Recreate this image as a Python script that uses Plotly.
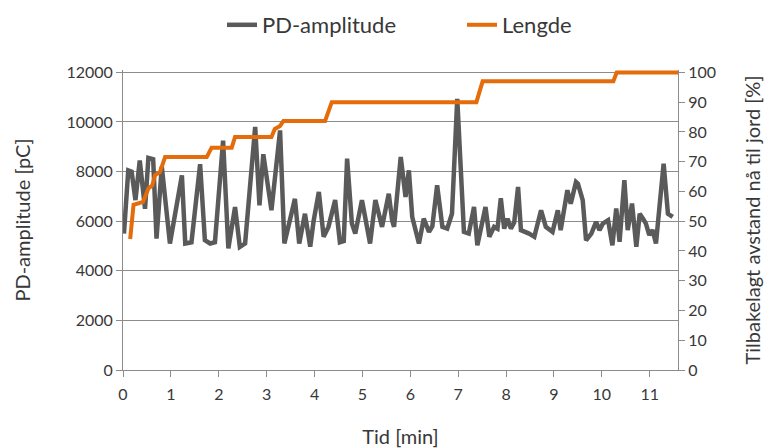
import plotly.graph_objects as go

# Time axis (minutes) and partial-discharge amplitude (pC)
pd_time = [
    0.02, 0.11, 0.18, 0.26, 0.35, 0.46, 0.53, 0.63, 0.70, 0.81, 0.98, 1.23, 1.30, 1.43,
    1.61, 1.71, 1.82, 1.92, 2.09, 2.20, 2.34, 2.44, 2.55, 2.76, 2.85, 2.93, 3.10, 3.28,
    3.37, 3.59, 3.68, 3.80, 3.91, 3.98, 4.09, 4.19, 4.29, 4.43, 4.53, 4.61, 4.68, 4.78,
    4.85, 4.99, 5.16, 5.27, 5.41, 5.55, 5.62, 5.66, 5.80, 5.90, 5.97, 6.04, 6.18, 6.28,
    6.39, 6.46, 6.56, 6.67, 6.77, 6.87, 6.98, 7.12, 7.22, 7.33, 7.40, 7.50, 7.57, 7.65,
    7.75, 7.82, 7.89, 7.96, 8.03, 8.10, 8.17, 8.25, 8.31, 8.48, 8.59, 8.73, 8.83, 8.97,
    9.08, 9.14, 9.28, 9.35, 9.46, 9.50, 9.60, 9.67, 9.78, 9.88, 9.95, 10.02, 10.13,
    10.22, 10.30, 10.37, 10.47, 10.54, 10.63, 10.72, 10.79, 10.86, 10.92, 10.99, 11.06,
    11.13, 11.29, 11.38, 11.48,
]
pd_amplitude = [
    5500, 8050, 8000, 6850, 8450, 6500, 8550, 8500, 5300, 8200, 5100, 7850, 5100, 5150,
    8300, 5230, 5100, 5150, 9250, 4900, 6570, 4960, 5100, 9800, 6640, 8700, 6440, 9660,
    5100, 6900, 5100, 6300, 4970, 6000, 7180, 5370, 5770, 6850, 5150, 5200, 8520, 5900,
    5500, 6850, 5100, 6850, 5770, 7110, 6040, 5770, 8590, 6980, 8050, 6170, 5100, 6100,
    5570, 5800, 7450, 5770, 5700, 6300, 10930, 5570, 5500, 6570, 5030, 5900, 6570, 5370,
    5770, 5700, 6920, 5700, 6100, 5700, 5950, 7380, 5640, 5500, 5370, 6440, 5770, 5570,
    6440, 5640, 7250, 6700, 7580, 7510, 6850, 5230, 5500, 5970, 5640, 5900, 6040,
    5030, 6510, 5170, 7650, 5640, 6710, 4970, 6300, 6100, 5900, 5440, 5640,
    5100, 8320, 6300, 6170,
]

# Distance travelled towards ground (%)
len_time = [0.15, 0.22, 0.42, 0.53, 0.61, 0.67, 0.77, 0.88, 1.75, 1.85, 2.27, 2.34,
            3.10, 3.17, 3.28, 3.35, 4.22, 4.36, 7.38, 7.51, 10.24, 10.31, 11.59]
len_pct = [44, 55.5, 56.5, 61, 62, 65.5, 66.5, 71.6, 71.6, 74.7, 74.7, 78.3,
           78.3, 81, 82, 83.7, 83.7, 90, 90, 97, 97, 100, 100]

x_ticks = list(range(0, 12))
y1_ticks = list(range(0, 12001, 2000))
y2_ticks = list(range(0, 101, 10))

GRID = "#8c8c8c"
TXT = "#383838"
FONT = "Lato"

fig = go.Figure()
fig.add_trace(go.Scatter(
    x=pd_time, y=pd_amplitude, name="PD-amplitude", mode="lines",
    line=dict(color="#5a5a5a", width=4.5), legend="legend",
))
fig.add_trace(go.Scatter(
    x=len_time, y=len_pct, name="Lengde", mode="lines", yaxis="y2",
    line=dict(color="#e46c0a", width=4), legend="legend2",
))

pad = 1.008
top, bottom, left, right = 70, 78, 123, 93
plot_h = 448 - top - bottom
plot_w = 771 - left - right
legend_y = 1 + (top - 4) / plot_h


def legend_at(px):
    return dict(orientation="h", x=(px - left) / plot_w, xanchor="left",
                y=legend_y, yanchor="top", bgcolor="rgba(0,0,0,0)",
                font=dict(size=22, color=TXT))


fig.update_layout(
    width=771, height=448,
    margin=dict(l=left, r=right, t=top, b=bottom, autoexpand=False),
    paper_bgcolor="white", plot_bgcolor="white",
    font=dict(family=FONT, color=TXT, size=15),
    showlegend=True,
    legend=legend_at(222),
    legend2=legend_at(462),
    xaxis=dict(
        range=[0, 11.59], tickvals=x_ticks, ticktext=[str(v) for v in x_ticks],
        showgrid=False, zeroline=False, showline=True, linecolor=GRID, linewidth=1,
        ticks="outside", ticklen=6, tickcolor=GRID, ticklabelstandoff=4,
        automargin=False,
        title=dict(text="Tid [min]", font=dict(size=20, color=TXT), standoff=28),
        tickfont=dict(size=16, color=TXT),
    ),
    yaxis=dict(
        range=[0, 12000 * pad], tickvals=y1_ticks, ticktext=[str(v) for v in y1_ticks],
        showgrid=True, gridcolor=GRID, gridwidth=1, zeroline=False,
        showline=True, linecolor=GRID, linewidth=1,
        ticks="outside", ticklen=6, tickcolor=GRID, automargin=False,
        title=dict(text="PD-amplitude [pC]", font=dict(size=20, color=TXT), standoff=30),
        tickfont=dict(size=16, color=TXT),
    ),
    yaxis2=dict(
        range=[0, 100 * pad], tickvals=y2_ticks, ticktext=[str(v) for v in y2_ticks],
        overlaying="y", side="right", showgrid=False, zeroline=False,
        showline=True, linecolor=GRID, linewidth=1,
        ticks="outside", ticklen=6, tickcolor=GRID, automargin=False,
        title=dict(text="Tilbakelagt avstand nå til jord [%]",
                   font=dict(size=20, color=TXT), standoff=30),
        tickfont=dict(size=16, color=TXT),
    ),
)

fig.write_html("out.html")
